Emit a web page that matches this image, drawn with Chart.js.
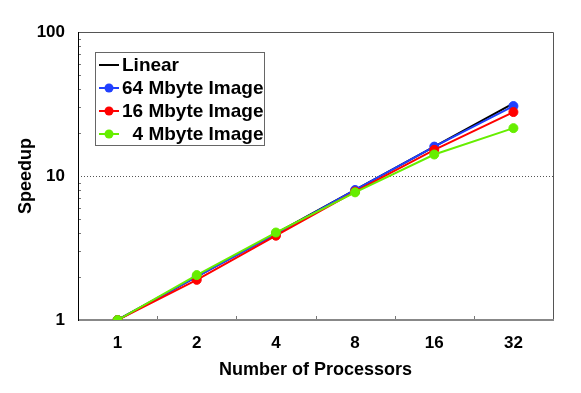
<!DOCTYPE html>
<html>
<head>
<meta charset="utf-8">
<script src="https://cdn.jsdelivr.net/npm/chart.js@4"></script>
<style>
  html, body { margin: 0; padding: 0; background: #fff; }
  #wrap { width: 581px; height: 393px; }
</style>
</head>
<body>
<div id="wrap"><canvas id="chart" width="581" height="393"></canvas></div>
<script>
// categories and series
const processors = ['1', '2', '4', '8', '16', '32'];
const linear = [1, 2, 4, 8, 16, 32];
const mb64 = [1, 2.0, 3.95, 8.0, 16.0, 30.6];
const mb16 = [1, 1.9, 3.85, 7.8, 15.2, 27.8];
const mb4 = [1, 2.05, 4.05, 7.7, 14.1, 21.5];
const yTickLabels = [1, 10, 100];

const FONT = "'Liberation Sans', Arial, sans-serif";

// minor ticks + frame + legend box drawn on top of the chart area
const framePlugin = {
  id: 'frame',
  beforeDatasetsDraw(chart) {
    const { ctx, chartArea: a, scales: { x, y } } = chart;
    ctx.save();
    // dotted line at 10
    ctx.strokeStyle = '#555';
    ctx.lineWidth = 1;
    ctx.setLineDash([1, 2]);
    const y10 = Math.round(y.getPixelForValue(10)) + 0.5;
    ctx.beginPath();
    ctx.moveTo(a.left, y10);
    ctx.lineTo(a.right, y10);
    ctx.stroke();
    ctx.setLineDash([]);
    // top and right frame
    ctx.strokeStyle = '#555';
    ctx.beginPath();
    ctx.moveTo(a.left, a.top + 0.5);
    ctx.lineTo(a.right + 0.5, a.top + 0.5);
    ctx.lineTo(a.right + 0.5, a.bottom);
    ctx.stroke();
    // minor y ticks
    ctx.strokeStyle = '#777';
    for (let d = 1; d <= 10; d *= 10) {
      for (let k = 2; k <= 9; k++) {
        const py = Math.round(y.getPixelForValue(k * d)) + 0.5;
        ctx.beginPath();
        ctx.moveTo(a.left, py);
        ctx.lineTo(a.left + 3, py);
        ctx.stroke();
      }
    }
    // x ticks between categories
    for (let i = 1; i < processors.length; i++) {
      const px = Math.round((x.getPixelForValue(i - 1) + x.getPixelForValue(i)) / 2) + 0.5;
      ctx.beginPath();
      ctx.moveTo(px, a.bottom);
      ctx.lineTo(px, a.bottom - 4);
      ctx.stroke();
    }
    // bottom axis (gray) and left axis (black)
    ctx.strokeStyle = '#888';
    ctx.lineWidth = 2;
    ctx.beginPath();
    ctx.moveTo(a.left, a.bottom);
    ctx.lineTo(a.right + 1, a.bottom);
    ctx.stroke();
    ctx.strokeStyle = '#000';
    ctx.lineWidth = 1;
    ctx.beginPath();
    ctx.moveTo(a.left + 0.5, a.top);
    ctx.lineTo(a.left + 0.5, a.bottom + 1);
    ctx.stroke();
    ctx.restore();
  },
  afterDraw(chart) {
    const { ctx } = chart;
    const box = { x: 95.5, y: 52.5, w: 169, h: 93 };
    ctx.save();
    ctx.fillStyle = '#fff';
    ctx.fillRect(box.x, box.y, box.w, box.h);
    ctx.strokeStyle = '#666';
    ctx.lineWidth = 1;
    ctx.strokeRect(box.x, box.y, box.w, box.h);
    ctx.font = 'bold 19px ' + FONT;
    ctx.textBaseline = 'middle';
    chart.data.datasets.forEach((ds, i) => {
      const cy = 65 + i * 23;
      ctx.strokeStyle = ds.borderColor;
      ctx.lineWidth = 2;
      ctx.beginPath();
      ctx.moveTo(99, cy);
      ctx.lineTo(119, cy);
      ctx.stroke();
      if (ds.pointRadius > 0) {
        ctx.fillStyle = ds.backgroundColor;
        ctx.beginPath();
        ctx.arc(109, cy, 4.5, 0, Math.PI * 2);
        ctx.fill();
      }
      ctx.fillStyle = '#000';
      ctx.textAlign = 'left';
      ctx.fillText(ds.label, 122, cy + 1);
    });
    ctx.restore();
  }
};

function series(label, data, color, radius, order) {
  return {
    label, data, order,
    borderColor: color,
    backgroundColor: color,
    borderWidth: 2,
    pointRadius: radius,
    pointHoverRadius: radius,
    pointBorderWidth: 1,
    tension: 0,
    fill: false
  };
}

new Chart(document.getElementById('chart').getContext('2d'), {
  type: 'line',
  data: {
    labels: processors,
    datasets: [
      series('Linear', linear, '#000000', 0, 4),
      series('64 Mbyte Image', mb64, '#2040ff', 4.5, 3),
      series('16 Mbyte Image', mb16, '#ff0000', 4.5, 2),
      series('  4 Mbyte Image', mb4, '#66ee00', 4.5, 1)
    ]
  },
  options: {
    responsive: false,
    animation: false,
    events: [],
    layout: { padding: { top: 32, right: 28, left: 0, bottom: 0 } },
    plugins: {
      legend: { display: false },
      tooltip: { enabled: false }
    },
    scales: {
      x: {
        type: 'category',
        offset: true,
        grid: { display: false, drawTicks: false },
        border: { display: false },
        ticks: { color: '#000', font: { family: FONT, size: 17, weight: 'bold' }, padding: 13, maxRotation: 0 },
        title: {
          display: true,
          text: 'Number of Processors',
          color: '#000',
          font: { family: FONT, size: 18, weight: 'bold' },
          padding: { top: 0, bottom: 12 }
        },
        afterFit(scale) { scale.height = 73; }
      },
      y: {
        type: 'logarithmic',
        min: 1,
        max: 100,
        grid: { display: false, drawTicks: false },
        border: { display: false },
        afterBuildTicks(scale) {
          scale.ticks = yTickLabels.map(v => ({ value: v }));
        },
        ticks: {
          color: '#000',
          font: { family: FONT, size: 17, weight: 'bold' },
          padding: 13,
          callback: v => String(v)
        },
        title: {
          display: true,
          text: 'Speedup',
          color: '#000',
          font: { family: FONT, size: 18, weight: 'bold' },
          padding: { top: 15, bottom: 0 }
        },
        afterFit(scale) { scale.width = 78; }
      }
    }
  },
  plugins: [framePlugin]
});
</script>
</body>
</html>
